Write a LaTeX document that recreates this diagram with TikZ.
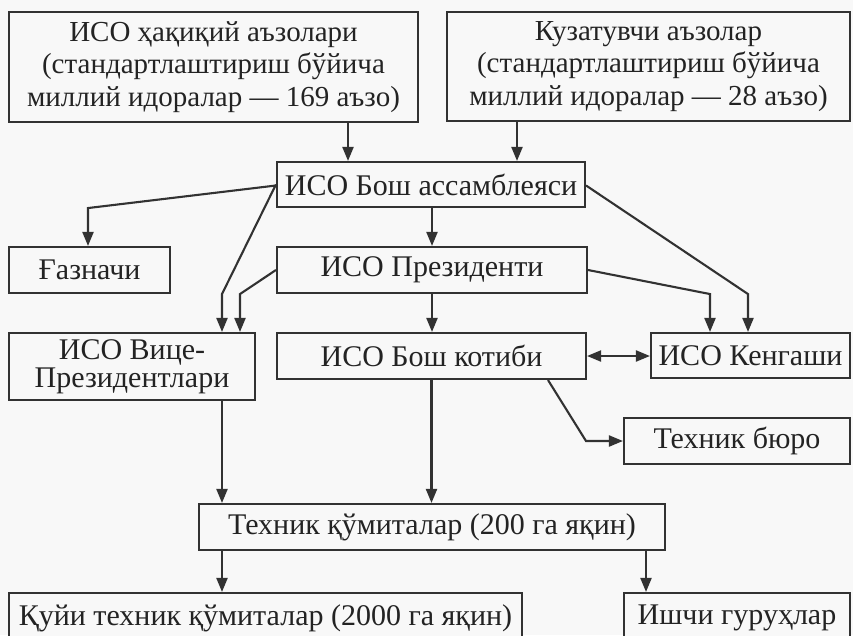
\documentclass[tikz,border=0pt]{standalone}
\usepackage{fontspec}
\setmainfont{Liberation Serif}
\usetikzlibrary{arrows.meta,calc}
\definecolor{ink}{RGB}{50,50,50}
\definecolor{txt}{RGB}{35,35,35}
\definecolor{paper}{RGB}{248,248,248}
\tikzset{
  box/.style={draw=ink, line width=2.1pt, fill=paper, text=txt, inner sep=0pt,
              align=center, font=\fontsize{30}{32.5}\selectfont},
  bigbox/.style={box, font=\fontsize{29}{32.5}\selectfont},
  arr/.style={draw=ink, line width=2.1pt, -{Triangle[length=14pt,width=11pt]}},
  darr/.style={draw=ink, line width=2.1pt, {Triangle[length=14pt,width=11pt]}-{Triangle[length=14pt,width=11pt]}}
}
\begin{document}
\begin{tikzpicture}[x=1pt,y=-1pt]
\useasboundingbox[fill=paper] (0,0) rectangle (853,635);
% boxes
\node[bigbox, minimum width=409pt, minimum height=110pt] (mem) at (213.5,67)
  {ИСО ҳақиқий аъзолари\\(стандартлаштириш бўйича\\миллий идоралар — 169 аъзо)};
\node[bigbox, minimum width=403pt, minimum height=109pt] (obs) at (648.5,66.5)
  {Кузатувчи аъзолар\\(стандартлаштириш бўйича\\миллий идоралар — 28 аъзо)};
\node[box, minimum width=308pt, minimum height=45pt] (asm) at (431,184.5) {ИСО Бош ассамблеяси};
\node[box, minimum width=161pt, minimum height=46pt] (gaz) at (89.5,270) {Ғазначи};
\node[box, minimum width=310pt, minimum height=46pt] (pres) at (432,270) {ИСО Президенти};
\node[box, minimum width=246pt, minimum height=67pt, font=\fontsize{30}{28}\selectfont] (vice) at (132,366.5) {ИСО Вице-\\Президентлари};
\node[box, minimum width=309pt, minimum height=46pt] (sec) at (431.5,356) {ИСО Бош котиби};
\node[box, minimum width=199pt, minimum height=45pt] (ken) at (750.5,355.5) {ИСО Кенгаши};
\node[box, minimum width=226pt, minimum height=46pt] (bur) at (737,441) {Техник бюро};
\node[box, minimum width=466pt, minimum height=46pt] (tc) at (432,527) {Техник қўмиталар (200 га яқин)};
\node[box, minimum width=513pt, minimum height=50pt] (stc) at (265.5,618) {Қуйи техник қўмиталар (2000 га яқин)};
\node[box, minimum width=226pt, minimum height=50pt] (wg) at (737,618) {Ишчи гуруҳлар};
% helper x positions
\coordinate (x348) at (348,0);
\coordinate (x517) at (517,0);
\coordinate (x88) at (88,0);
\coordinate (x222) at (222,0);
\coordinate (x240) at (240,0);
\coordinate (x710) at (710,0);
\coordinate (x748) at (748,0);
\coordinate (x548) at (548,0);
\coordinate (x586) at (586,0);
\coordinate (x646) at (646,0);
% connectors
\draw[arr] (x348 |- mem.south) -- (x348 |- asm.north);
\draw[arr] (x517 |- obs.south) -- (x517 |- asm.north);
\draw[arr] ([yshift=-1pt]asm.west) -- (x88 |- asm.south) -- (x88 |- gaz.north);
\draw[arr] (asm.west) -- (x222 |- pres.south) -- (x222 |- vice.north);
\draw[arr] (pres.west) -- (x240 |- pres.south) -- (x240 |- vice.north);
\draw[arr] (pres.north |- asm.south) -- (pres.north);
\draw[arr] ([yshift=-1pt]asm.east) -- (x748 |- pres.south) -- (x748 |- ken.north);
\draw[arr] (pres.east) -- (x710 |- pres.south) -- (x710 |- ken.north);
\draw[arr] (pres.south) -- (pres.south |- sec.north);
\draw[darr] (sec.east) -- (sec.east -| ken.west);
\draw[arr] (x548 |- sec.south) -- (x586 |- bur.west) -- (bur.west);
\draw[arr] (sec.south) -- (sec.south |- tc.north);
\draw[arr] (x222 |- vice.south) -- (x222 |- tc.north);
\draw[arr] (x222 |- tc.south) -- (x222 |- stc.north);
\draw[arr] (x646 |- tc.south) -- (x646 |- wg.north);
\end{tikzpicture}
\end{document}
